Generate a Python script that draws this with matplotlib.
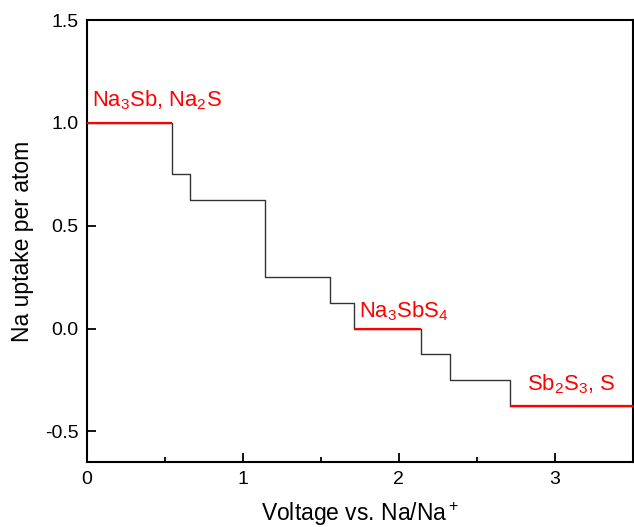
import numpy as np
import matplotlib
matplotlib.use('Agg')
import matplotlib.pyplot as plt
from matplotlib.ticker import MultipleLocator

plt.rcParams['font.family'] = ['Liberation Sans', 'DejaVu Sans']
plt.rcParams['mathtext.default'] = 'regular'

## step edges (V) and Na uptake on each plateau
volt = [0.0, 0.543, 0.66, 1.145, 1.558, 1.714, 2.145, 2.331, 2.712, 3.5]
uptake = [1.0, 0.75, 0.625, 0.25, 0.125, 0.0, -0.125, -0.25, -0.375]

## plateaus marked as phases
phase_idx = [0, 5, 8]
phase_lbl = ['Na$_3$Sb, Na$_2$S', 'Na$_3$SbS$_4$', 'Sb$_2$S$_3$, S']
lbl_xy = [(0.03, 1.078), (1.745, 0.053), (2.82, -0.302)]

fig = plt.figure(figsize=(6.34, 5.27), dpi=100)
ax = fig.add_axes([0.137, 0.123, 0.861, 0.839])

yy = uptake + [uptake[-1]]
ax.step(volt, yy, where='post', color='#333333', lw=1.0, zorder=2)

for i, lab, (tx, ty) in zip(phase_idx, phase_lbl, lbl_xy):
    ax.hlines(uptake[i], volt[i], volt[i+1], color='red', lw=1.6, zorder=3)
    ax.text(tx, ty, lab, color='red', fontsize=15.8, ha='left', va='baseline')

ax.set_xlim(0, 3.5)
ax.set_ylim(-0.65, 1.5)
ax.xaxis.set_minor_locator(MultipleLocator(0.5))
ax.set_xticks([0, 1, 2, 3])
ax.set_yticks([-0.5, 0.0, 0.5, 1.0, 1.5])
ax.set_yticklabels(['-0.5', '0.0', '0.5', '1.0', '1.5'])
ax.tick_params(which='major', direction='in', length=6.5, width=1.3, labelsize=14,
               top=False, right=False)
ax.tick_params(axis='y', pad=6)
ax.tick_params(axis='x', pad=6)
ax.tick_params(which='minor', direction='in', length=3.5, width=1.3, top=False, right=False)
for sp in ax.spines.values():
    sp.set_linewidth(1.5)

ax.set_xlabel('Voltage vs. Na/Na$^+$', fontsize=16.5, labelpad=9)
ax.set_ylabel('Na uptake per atom', fontsize=16.5, labelpad=8)

fig.savefig('out.png', dpi=100)
